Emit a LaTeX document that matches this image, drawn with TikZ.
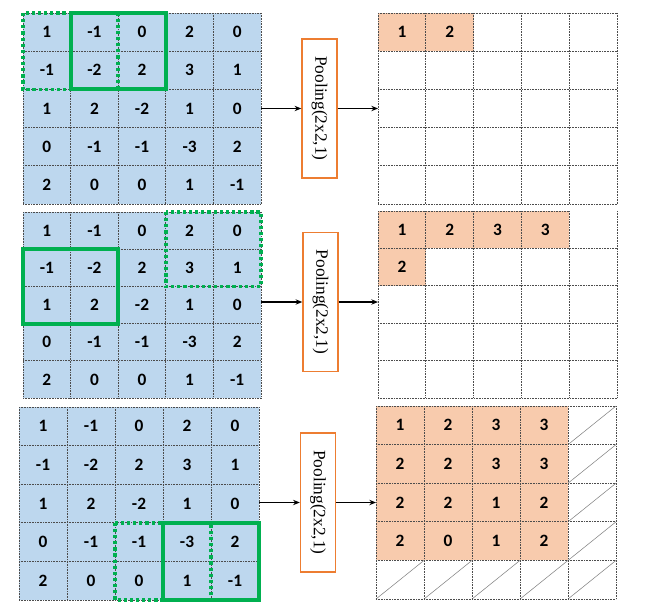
\documentclass[tikz,border=0pt]{standalone}
\usepackage{fontspec}
\newfontfamily\numfont{Carlito}
\newfontfamily\poolfont{Liberation Serif}
\usetikzlibrary{arrows.meta}
\definecolor{cellblue}{HTML}{BDD7EE}
\definecolor{cellorange}{HTML}{F8CBAD}
\definecolor{hlgreen}{HTML}{00B050}
\definecolor{poolorange}{HTML}{ED7D31}
\newcommand\mygridlines[1]{%
  \foreach \i in {0,...,5}{\draw[gridline] (\i,0) -- (\i,5);}
  \foreach \i in {#1,...,5}{\draw[gridline] (0,\i) -- (5,\i);}}
\newcommand\leftnums[1]{%
  \foreach \row [count=\r from 0] in {{1,-1,0,2,0},{-1,-2,2,3,1},{1,2,-2,1,0},{0,-1,-1,-3,2},{2,0,0,1,-1}}{
    \foreach \v [count=\c from 0] in \row {\node[num] (#1-\r-\c) at (\c+0.5,\r+0.5) {\v};}}}
\begin{document}
\begin{tikzpicture}[x=0.75pt,y=-0.75pt,
  gridline/.style={black!70, line width=0.5pt, dash pattern=on 0.7pt off 0.5pt},
  num/.style={font=\numfont\bfseries\fontsize{13}{15}\selectfont, inner sep=0pt},
  solidsel/.style={hlgreen, line width=3pt},
  dotsel/.style={hlgreen, line width=2.6pt, dash pattern=on 2.4pt off 2.2pt},
  poolbox/.style={draw=poolorange, line width=1.1pt, fill=white, inner sep=0pt,
    minimum width=26.25pt, minimum height=104.5pt,
    font=\poolfont\fontsize{13}{15}\selectfont},
  arr/.style={-{Stealth[length=5pt,width=4pt]}, line width=0.9pt},
  hatch/.style={black!50, line width=0.4pt}
]
\useasboundingbox (0,0) rectangle (649,610);

% ---------- pooling boxes ----------
\node[poolbox] (p1) at (319.5,108.5) {\rotatebox{-90}{Pooling(2x2,1)}};
\node[poolbox] (p2) at (320.5,302) {\rotatebox{-90}{Pooling(2x2,1)}};
\node[poolbox] (p3) at (318,502.5) {\rotatebox{-90}{Pooling(2x2,1)}};

% ---------- left grid 1 ----------
\begin{scope}[shift={(23,13)}, x=35.7pt, y=-28.65pt]
  \fill[cellblue] (0,0) rectangle (5,5);
  \mygridlines{0}
  \leftnums{a}
  \draw[dotsel] (0,0) rectangle (2,2);
  \draw[solidsel] (1,0) rectangle (3,2);
  \coordinate (a-e) at (5,2.5);
\end{scope}

% ---------- left grid 2 ----------
\begin{scope}[shift={(23,212)}, x=35.7pt, y=-27.9pt]
  \fill[cellblue] (0,0) rectangle (5,5);
  \mygridlines{0}
  \leftnums{b}
  \draw[dotsel] (3,0) rectangle (5,2);
  \draw[solidsel] (0,1) rectangle (2,3);
  \coordinate (b-e) at (5,2.5);
\end{scope}

% ---------- left grid 3 ----------
\begin{scope}[shift={(19,407)}, x=36pt, y=-28.95pt]
  \fill[cellblue] (0,0) rectangle (5,5);
  \mygridlines{0}
  \leftnums{c}
  \draw[dotsel] (2,3) rectangle (4,5);
  \draw[solidsel] (3,3) rectangle (5,5);
  \coordinate (c-e) at (5,2.5);
\end{scope}

% ---------- right grid 1 ----------
\begin{scope}[shift={(378,13)}, x=35.85pt, y=-28.65pt]
  \fill[cellorange] (0,0) rectangle (2,1);
  \mygridlines{0}
  \node[num] (d-0-0) at (0.5,0.5) {1};
  \node[num] (d-0-1) at (1.5,0.5) {2};
  \coordinate (d-w) at (0,2.5);
\end{scope}

% ---------- right grid 2 ----------
\begin{scope}[shift={(378,211)}, x=35.85pt, y=-28.05pt]
  \fill[cellorange] (0,0) rectangle (4,1);
  \fill[cellorange] (0,1) rectangle (1,2);
  \draw[gridline] (0,0) -- (4,0);
  \mygridlines{1}
  \foreach \v [count=\c from 0] in {1,2,3,3}{\node[num] (e-0-\c) at (\c+0.5,0.5) {\v};}
  \node[num] (e-1-0) at (0.5,1.5) {2};
  \coordinate (e-w) at (0,2.5);
\end{scope}

% ---------- right grid 3 ----------
\begin{scope}[shift={(376,406)}, x=36pt, y=-28.95pt]
  \fill[cellorange] (0,0) rectangle (4,4);
  \foreach \r in {0,...,3}{\draw[hatch] (4,\r+1) -- (5,\r);}
  \foreach \c in {0,...,4}{\draw[hatch] (\c,5) -- (\c+1,4);}
  \mygridlines{0}
  \foreach \row [count=\r from 0] in {{1,2,3,3},{2,2,3,3},{2,2,1,2},{2,0,1,2}}{
    \foreach \v [count=\c from 0] in \row {\node[num] (f-\r-\c) at (\c+0.5,\r+0.5) {\v};}}
  \coordinate (f-w) at (0,2.5);
\end{scope}

% ---------- arrows ----------
\draw[arr] (p1.west -| a-e) -- (p1.west);
\draw[arr] (p1.east) -- (p1.east -| d-w);
\draw[arr] (p2.west -| b-e) -- (p2.west);
\draw[arr] (p2.east) -- (p2.east -| e-w);
\draw[arr] (p3.west -| c-e) -- (p3.west);
\draw[arr] (p3.east) -- (p3.east -| f-w);
\end{tikzpicture}
\end{document}
